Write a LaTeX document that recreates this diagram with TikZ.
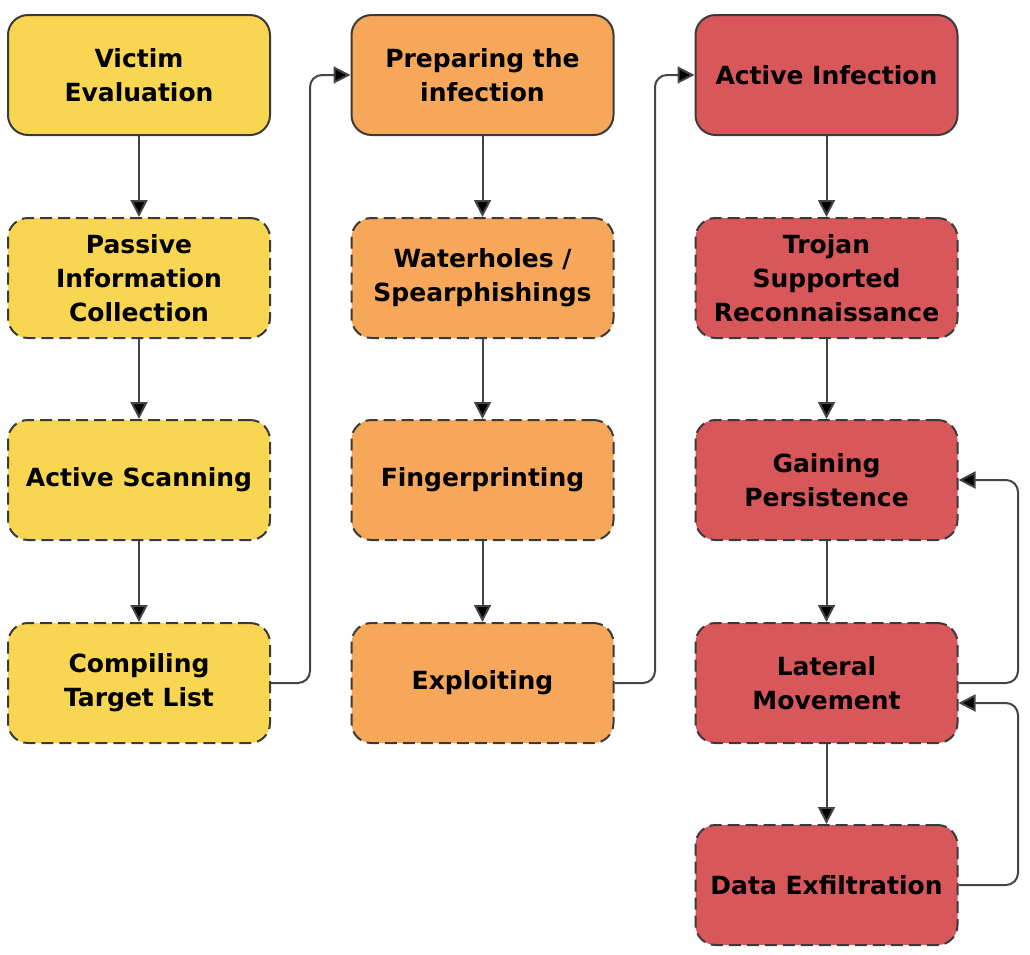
\documentclass[tikz,border=0pt]{standalone}
\usepackage{fontspec}
\setmainfont{DejaVu Sans}
\usetikzlibrary{arrows.meta}
\definecolor{cyel}{HTML}{F9D651}
\definecolor{cora}{HTML}{F7A759}
\definecolor{cred}{HTML}{D8575A}
\definecolor{cbord}{HTML}{3A3A3A}
\definecolor{cline}{HTML}{444444}
\tikzset{
  box/.style={draw=cbord, line width=2pt, rounded corners=20pt, minimum width=262pt, minimum height=120pt,
    align=center, font=\fontsize{25}{34}\selectfont\bfseries, inner sep=0pt, text=black},
  dbox/.style={box, dash pattern=on 12pt off 6pt},
  yel/.style={fill=cyel},
  ora/.style={fill=cora},
  red/.style={fill=cred},
  conn/.style={draw=cline, line width=2pt, -{Triangle[length=17pt,width=17pt,fill=black]}, rounded corners=12pt}
}
\begin{document}
\begin{tikzpicture}[x=1pt,y=-1pt]
\useasboundingbox (0,0) rectangle (1030,954);
% column 1
\node[box,yel] (v) at (139,75) {Victim\\Evaluation};
\node[dbox,yel] (p) at (139,278) {Passive\\Information\\Collection};
\node[dbox,yel] (a) at (139,480) {Active Scanning};
\node[dbox,yel] (c) at (139,683) {Compiling\\Target List};
% column 2
\node[box,ora] (pr) at (482.5,75) {Preparing the\\infection};
\node[dbox,ora] (w) at (482.5,278) {Waterholes /\\Spearphishings};
\node[dbox,ora] (f) at (482.5,480) {Fingerprinting};
\node[dbox,ora] (e) at (482.5,683) {Exploiting};
% column 3
\node[box,red] (ai) at (826.5,75) {Active Infection};
\node[dbox,red] (t) at (826.5,278) {Trojan\\Supported\\Reconnaissance};
\node[dbox,red] (g) at (826.5,480) {Gaining\\Persistence};
\node[dbox,red] (l) at (826.5,683) {Lateral\\Movement};
\node[dbox,red] (d) at (826.5,885) {Data Exfiltration};
% vertical arrows
\draw[conn] (v) -- (p);
\draw[conn] (p) -- (a);
\draw[conn] (a) -- (c);
\draw[conn] (pr) -- (w);
\draw[conn] (w) -- (f);
\draw[conn] (f) -- (e);
\draw[conn] (ai) -- (t);
\draw[conn] (t) -- (g);
\draw[conn] (g) -- (l);
\draw[conn] (l) -- (d);
% column links
\draw[conn] (c.east) -- (310,683) -- (310,75) -- (pr.west);
\draw[conn] (e.east) -- (655,683) -- (655,75) -- (ai.west);
% feedback
\draw[conn] (l.east) -- (1018,683) -- (1018,480) -- (g.east);
\draw[conn] (d.east) -- (1018,885) -- (1018,703) -- ([yshift=-20pt]l.east);
\end{tikzpicture}
\end{document}
